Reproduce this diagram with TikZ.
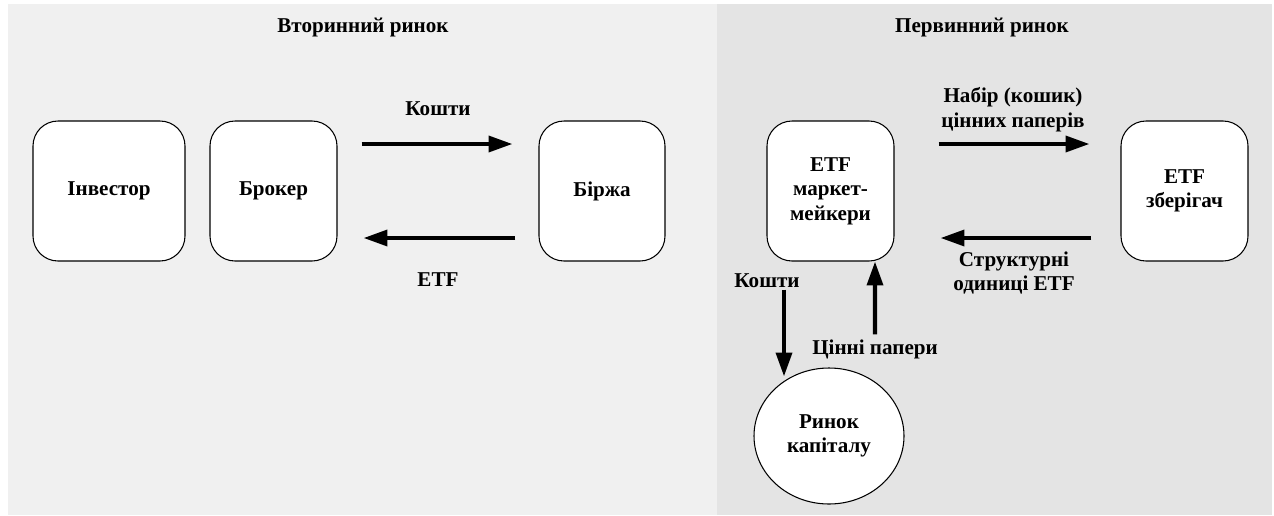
\documentclass[tikz,border=0pt]{standalone}
\usepackage{fontspec}
\setmainfont{Liberation Serif}
\usepackage{xcolor}
\usepackage{tikz}
\usetikzlibrary{arrows.meta,positioning,calc,shapes.geometric}

\definecolor{secbg}{HTML}{F0F0F0}
\definecolor{primbg}{HTML}{E4E4E4}

\begin{document}
\begin{tikzpicture}[
    box/.style={draw, line width=0.6pt, fill=white, rounded corners=0.5cm,
      minimum height=2.8cm, align=center},
    flow/.style={line width=2.3pt, -{Triangle[length=13.6pt,width=9pt]}},
    lbl/.style={align=center},
    every node/.style={font=\fontsize{12}{13.9}\selectfont\bfseries}
  ]
  \useasboundingbox (0,0) rectangle (25.48,-10.30);

  % Panels
  \fill[secbg] (0.16,-0.08) rectangle (14.34,-10.30);
  \fill[primbg] (14.34,-0.08) rectangle (25.44,-10.30);
  \node (sectitle) at (7.26,-0.54) {Вторинний ринок};
  \node (primtitle) at (19.64,-0.54) {Первинний ринок};

  % Secondary market
  \node[box, minimum width=3.04cm] (investor) at (2.18,-3.82) {Інвестор};
  \node[box, minimum width=2.54cm] (broker) at (5.47,-3.82) {Брокер};
  \node[box, minimum width=2.52cm] (exchange) at (12.04,-3.82) {Біржа};

  \draw[flow, shorten <=0.48cm, shorten >=0.52cm]
    ([yshift=0.94cm]broker.east) -- ([yshift=0.94cm]exchange.west);
  \draw[flow, shorten <=0.46cm, shorten >=0.52cm]
    ([yshift=-0.94cm]exchange.west) -- ([yshift=-0.94cm]broker.east);
  \node[lbl] (cashsec) at (8.76,-2.18) {Кошти};
  \node[lbl] (etfsec) at (8.76,-5.60) {ETF};

  % Primary market
  \node[box, minimum width=2.54cm] (maker) at (16.61,-3.82) {ETF\\маркет-\\мейкери};
  \node[box, minimum width=2.54cm] (custodian) at (23.69,-3.82) {ETF\\зберігач};
  \node[draw, line width=0.6pt, fill=white, ellipse, minimum width=3.0cm,
    minimum height=2.72cm, align=center] (capital) at (16.58,-8.72) {Ринок\\капіталу};

  \draw[flow, shorten <=0.88cm, shorten >=0.62cm]
    ([yshift=0.94cm]maker.east) -- ([yshift=0.94cm]custodian.west);
  \draw[flow, shorten <=0.58cm, shorten >=0.92cm]
    ([yshift=-0.94cm]custodian.west) -- ([yshift=-0.94cm]maker.east);
  \node[lbl] (basket) at (20.26,-2.19) {Набір (кошик)\\цінних паперів};
  \node[lbl] (units) at (20.28,-5.46) {Структурні\\одиниці ETF};

  \draw[flow, shorten <=0.56cm, shorten >=-0.18cm]
    ([xshift=-0.93cm]maker.south) -- ([xshift=-0.90cm]capital.north);
  \draw[flow] ([xshift=0.92cm,yshift=0.66cm]capital.north) -- ([xshift=0.89cm]maker.south);
  \node[lbl] (cashprim) at (15.34,-5.62) {Кошти};
  \node[lbl] (secs) at (17.50,-6.98) {Цінні папери};
\end{tikzpicture}
\end{document}
